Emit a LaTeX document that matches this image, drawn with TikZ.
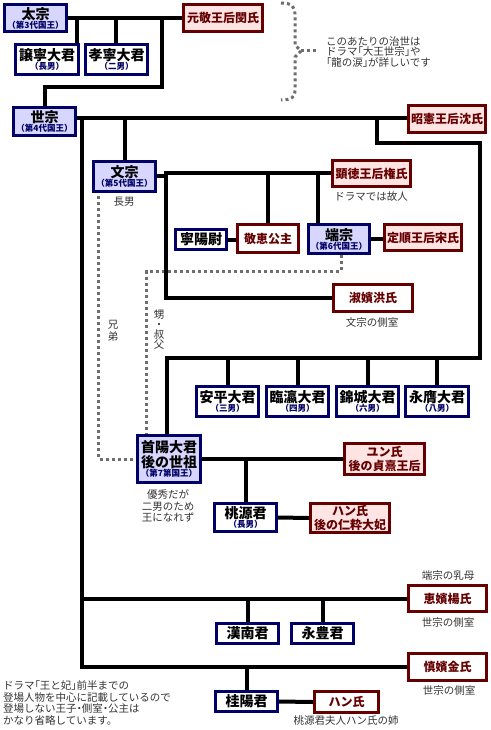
\documentclass[tikz,border=0pt]{standalone}
\usepackage{fontspec}
\setmainfont{Noto Sans CJK JP}
\newfontfamily\pfont[RawFeature=+palt]{Noto Sans CJK JP}
\usetikzlibrary{calc}
\definecolor{navy}{RGB}{0,0,102}
\definecolor{maroon}{RGB}{102,0,0}
\definecolor{lav}{RGB}{214,214,255}
\definecolor{pinkf}{RGB}{255,228,228}
\definecolor{notec}{RGB}{51,51,51}
\definecolor{dotc}{RGB}{110,110,110}
\pgfdeclarelayer{bg}
\pgfsetlayers{bg,main}
\newcommand\bx[7]{\node[#6, minimum width={#4-#2-3}, minimum height={#5-#3-3}] (#1) at ({(#2+#4)/2},{(#3+#5)/2}) {#7};}
\newcommand\kname[1]{{\fontsize{14}{16}\selectfont\bfseries #1}}
\newcommand\ksub[1]{{\fontsize{8.5}{9}\selectfont\bfseries\color{navy}#1}}
\newcommand\lb{{\pfont 「}}
\newcommand\rb{{\pfont 」}}
\newcommand\nd{{\pfont ・}}
\tikzset{
  boxbase/.style={line width=3pt, inner sep=0pt, align=center, font=\fontsize{8}{9}\selectfont},
  king/.style={boxbase, draw=navy, fill=lav, text=black},
  prince/.style={boxbase, draw=navy, fill=white, text=black},
  queen/.style={boxbase, draw=maroon, fill=pinkf, text=maroon, font=\fontsize{12}{14}\selectfont\bfseries},
  consort/.style={boxbase, draw=maroon, fill=white, text=maroon, font=\fontsize{12}{14}\selectfont\bfseries},
  ln/.style={line width=4pt, draw=black, line join=miter},
  dots/.style={draw=dotc, line width=3pt, dash pattern=on 3pt off 3pt},
  notetext/.style={text=notec, inner sep=0pt, align=center, font=\fontsize{10.5}{11.5}\selectfont},
}
\begin{document}
\begin{tikzpicture}[x=1pt,y=-1pt]
\useasboundingbox (0,0) rectangle (490,730);
% boxes
\bx{taejong}{3}{3}{68}{33}{king}{\kname{太宗}\\\ksub{（第3代国王）}}
\bx{wongyeong}{182}{3}{264}{33}{queen}{元敬王后閔氏}
\bx{yangnyeong}{14}{43}{80}{76}{prince}{\kname{譲寧大君}\\\ksub{（長男）}}
\bx{hyoryeong}{84}{43}{149}{76}{prince}{\kname{孝寧大君}\\\ksub{（二男）}}
\bx{sejong}{12}{106}{77}{137}{king}{\kname{世宗}\\\ksub{（第4代国王）}}
\bx{soheon}{407}{104}{487}{134}{queen}{昭憲王后沈氏}
\bx{munjong}{92}{160}{157}{193}{king}{\kname{文宗}\\\ksub{（第5代国王）}}
\bx{hyeondeok}{331}{159}{412}{188}{queen}{顕徳王后権氏}
\bx{yeongyang}{174}{228}{228}{251}{prince}{\kname{寧陽尉}}
\bx{gyeonghye}{236}{223}{300}{254}{consort}{敬恵公主}
\bx{tanjong}{307}{223}{371}{255}{king}{\kname{端宗}\\\ksub{（第6代国王）}}
\bx{jeongsun}{383}{223}{463}{252}{queen}{定順王后宋氏}
\bx{seonbin}{332}{283}{414}{313}{consort}{淑嬪洪氏}
\bx{anpyeong}{195}{385}{260}{418}{prince}{\kname{安平大君}\\\ksub{（三男）}}
\bx{imyeong}{265}{385}{330}{418}{prince}{\kname{臨瀛大君}\\\ksub{（四男）}}
\bx{geumseong}{335}{385}{400}{418}{prince}{\kname{錦城大君}\\\ksub{（六男）}}
\bx{yeongeung}{404}{385}{470}{418}{prince}{\kname{永膺大君}\\\ksub{（八男）}}
\bx{suyang}{136}{434}{202}{484}{king}{\kname{首陽大君}\\[1pt]\kname{後の世祖}\\\ksub{（第7第国王）}}
\bx{yun}{343}{442}{426}{476}{queen}{ユン氏\\後の貞熹王后}
\bx{dowon}{213}{502}{278}{533}{prince}{\kname{桃源君}\\\ksub{（長男）}}
\bx{hanA}{309}{502}{391}{534}{queen}{ハン氏\\後の仁粋大妃}
\bx{hyebin}{407}{584}{488}{613}{consort}{恵嬪楊氏}
\bx{hannam}{215}{622}{280}{645}{prince}{\kname{漢南君}}
\bx{yeongpung}{290}{622}{355}{645}{prince}{\kname{永豊君}}
\bx{sinbin}{407}{652}{488}{682}{consort}{慎嬪金氏}
\bx{gyeyang}{214}{690}{279}{713}{prince}{\kname{桂陽君}}
\bx{hanB}{313}{690}{380}{714}{consort}{ハン氏}
% notes
\node[notetext] (n1) at (371,197) {ドラマでは故人};
\node[notetext] (n2) at (372,322) {文宗の側室};
\node[notetext] (n3) at (124,202) {長男};
\node[notetext] (n4) at (113,331) {兄\\弟};
\node[notetext, font=\fontsize{10.5}{10}\selectfont] (n5) at (159,330) {甥\\・\\叔\\父};
\node[notetext] (n6) at (168,506) {優秀だが\\二男のため\\王になれず};
\node[notetext] (n7) at (448,575) {端宗の乳母};
\node[notetext] (n8) at (448,622) {世宗の側室};
\node[notetext] (n9) at (449,690) {世宗の側室};
\node[notetext] (n10) at (346,721) {桃源君夫人ハン氏の姉};
\node[notetext, anchor=west, align=left, font=\fontsize{10.5}{10.5}\selectfont] (n11) at (326,52) {このあたりの治世は\\ドラマ\lb 大王世宗\rb や\\\lb 龍の涙\rb が詳しいです};
\node[notetext, anchor=west, align=left] (n12) at (3,703) {ドラマ\lb 王と妃\rb 前半までの\\登場人物を中心に記載しているので\\登場しない王子\nd 側室\nd 公主は\\かなり省略しています。};
% connectors
\coordinate (t1) at (77,18);
\coordinate (t2) at (116,18);
\coordinate (t3) at (162,18);
\coordinate (s0) at (77,118);
\coordinate (v0) at (82,118);
\coordinate (s1) at (377,118);
\coordinate (m0) at (166,0);
\coordinate (b2) at (480,358);
\begin{pgfonlayer}{bg}
\draw[dots] ([xshift=6.5pt,yshift=-3pt]munjong.south west) |- (suyang.west);
\draw[dots] ([xshift=2pt]tanjong.south) -- ++(0,16) -| ([xshift=10.5pt]suyang.north west);
\draw[dots] (281,3) .. controls (292,3) and (295,7) .. (295,14) -- (295,45) -- (301,51) -- (295,57) -- (295,90) .. controls (295,97) and (292,100) .. (281,100);
\draw[dots] (301,51) -- (316,51);
\draw[ln] (taejong.east) -- (wongyeong.west);
\draw[ln] (t1) -- (t1 |- yangnyeong.north);
\draw[ln] (t2) -- (t2 |- hyoryeong.north);
\draw[ln] (t3) -- ++(0,69) -| (sejong.north);
\draw[ln] (s0) -- (s0 -| soheon.west);
\draw[ln] (v0) |- (sinbin.west);
\draw[ln] (v0 |- hyebin.west) -- (hyebin.west);
\draw[ln] (munjong.north) -- (munjong.north |- s0);
\draw[ln] (s1) -- ++(0,25) -| (b2) -| ([xshift=-2pt]suyang.north);
\draw[ln] (anpyeong.north) -- (anpyeong.north |- b2);
\draw[ln] (imyeong.north) -- (imyeong.north |- b2);
\draw[ln] (geumseong.north) -- (geumseong.north |- b2);
\draw[ln] (yeongeung.north) -- (yeongeung.north |- b2);
\draw[ln] (munjong.east) -- (munjong.east -| m0);
\draw[ln] (hyeondeok.west) -| (m0 |- seonbin.west) -- (seonbin.west);
\draw[ln] (gyeonghye.north) -- (gyeonghye.north |- hyeondeok.west);
\draw[ln] ([xshift=-21pt]tanjong.north) -- ([xshift=-21pt]tanjong.north |- hyeondeok.west);
\draw[ln] (yeongyang.east) -- (yeongyang.east -| gyeonghye.west);
\draw[ln] (tanjong.east) -- (tanjong.east -| jeongsun.west);
\draw[ln] (suyang.east) -- (yun.west);
\draw[ln] (dowon.north) -- (dowon.north |- suyang.east);
\draw[ln] (dowon.east) -- (hanA.west);
\draw[ln] (hannam.north) -- (hannam.north |- hyebin.west);
\draw[ln] (yeongpung.north) -- (yeongpung.north |- hyebin.west);
\draw[ln] (gyeyang.north) -- (gyeyang.north |- sinbin.west);
\draw[ln] (gyeyang.east) -- (hanB.west);
\end{pgfonlayer}
\end{tikzpicture}
\end{document}
